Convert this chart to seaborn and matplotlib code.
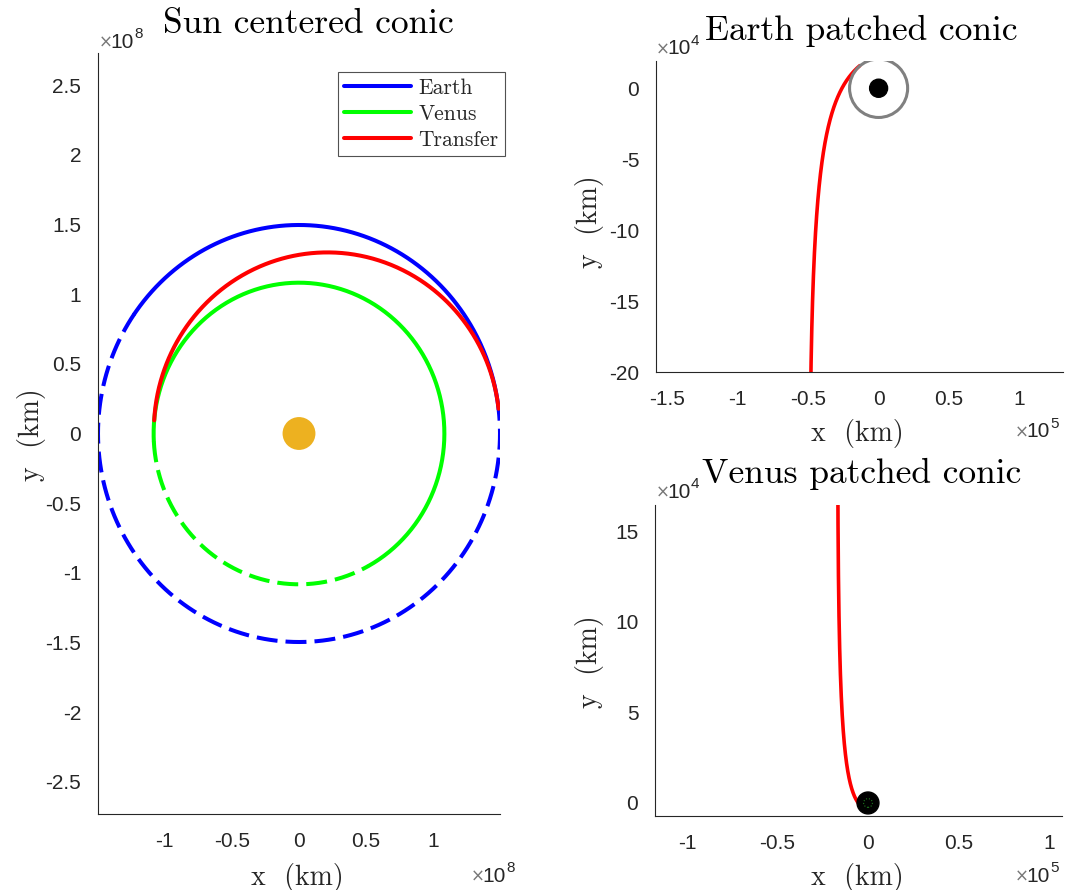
import numpy as np
import matplotlib
matplotlib.use("Agg")
import matplotlib.pyplot as plt
from matplotlib.patches import Circle
from matplotlib.lines import Line2D
from matplotlib.ticker import FuncFormatter
import seaborn as sns

# ---- data ----
# heliocentric orbits (km) and the arcs drawn solid / dashed (deg)
earth_orbit_r = 1.496e8
venus_orbit_r = 1.082e8
earth_solid_deg = [6.8, 145.0]
earth_dashed_deg = [145.0, 366.8]
venus_solid_deg = [-61.5, 183.0]
venus_dashed_deg = [183.0, 298.5]
# transfer conic: semi-latus rectum (km), eccentricity, periapsis angle (deg), true anomaly span (deg)
transfer_p = 1.253e8
transfer_e = 0.1624
transfer_w = 188.0
transfer_nu = [-181.2, -13.0]

# Earth departure hyperbola
earth_hyp_p = 4.76e4
earth_hyp_e = 1.292
earth_hyp_w = 130.0
earth_hyp_nu = [0.0, 128.0]
earth_body_r = 6378.0
earth_park_r = 2.06e4

# Venus arrival hyperbola
venus_hyp_p = 0.736e4
venus_hyp_e = 1.061
venus_hyp_w = 250.0
venus_hyp_nu = [-155.0, -70.0]
venus_body_r = 6052.0

sun_ticks_x = [-1e8, -0.5e8, 0, 0.5e8, 1e8]
sun_ticks_y = [-2.5e8, -2e8, -1.5e8, -1e8, -0.5e8, 0, 0.5e8, 1e8, 1.5e8, 2e8, 2.5e8]
earth_ticks_x = [-1.5e5, -1e5, -0.5e5, 0, 0.5e5, 1e5]
earth_ticks_y = [-20e4, -15e4, -10e4, -5e4, 0]
venus_ticks_x = [-1e5, -0.5e5, 0, 0.5e5, 1e5]
venus_ticks_y = [0, 5e4, 10e4, 15e4]

BLUE, GREEN, RED = "#0000ff", "#00ff00", "#ff0000"
SUN = "#EDB120"
AXC = "#262626"
SERIF = "cmr10"
TICKFONT = "Liberation Sans"

W, H = 1066, 890


def arc(r, deg_range, n=400):
    t = np.radians(np.linspace(deg_range[0], deg_range[1], n))
    return r * np.cos(t), r * np.sin(t)


def conic(p, e, w, nu_range, n=600):
    nu = np.radians(np.linspace(nu_range[0], nu_range[1], n))
    r = p / (1 + e * np.cos(nu))
    th = nu + np.radians(w)
    return r * np.cos(th), r * np.sin(th)


def line(ax, xy, color, dashed=False, lw=2.9):
    ls = (0, (5.2, 2.0)) if dashed else "-"
    sns.lineplot(x=xy[0], y=xy[1], ax=ax, color=color, linewidth=lw,
                 linestyle=ls, sort=False, estimator=None, legend=False)


def style_axes(ax, xt, yt, xs, ys):
    sns.despine(ax=ax)
    for s in ["left", "bottom"]:
        ax.spines[s].set_color(AXC)
        ax.spines[s].set_linewidth(0.8)
    ax.set_xticks(xt)
    ax.set_yticks(yt)
    ax.xaxis.set_major_formatter(FuncFormatter(lambda v, _: f"{v / xs:g}"))
    ax.yaxis.set_major_formatter(FuncFormatter(lambda v, _: f"{v / ys:g}"))
    ax.tick_params(direction="in", length=5, width=0.8, color=AXC,
                   labelsize=15, labelcolor=AXC)
    ax.tick_params(axis="x", pad=13)
    ax.tick_params(axis="y", pad=12)
    for lab in ax.get_xticklabels() + ax.get_yticklabels():
        lab.set_fontfamily(TICKFONT)
    ax.set_xlabel("")
    ax.set_ylabel("")


def fig_text(x, y, s, **kw):
    fig.text(x / W, 1 - y / H, s, **kw)


def expo(x, y, n):
    fig.text(x / W, 1 - y / H, r"$\times$", fontsize=12, color="#777777",
             ha="left", va="center")
    fig.text((x + 12) / W, 1 - y / H, "10", fontsize=15, color=AXC,
             family=TICKFONT, ha="left", va="center")
    fig.text((x + 36) / W, 1 - (y - 8) / H, str(n), fontsize=11, color=AXC,
             family=TICKFONT, ha="left", va="center")


sns.set_style("white")
plt.rcParams["mathtext.fontset"] = "dejavusans"

fig = plt.figure(figsize=(W / 100, H / 100), dpi=100)
ax1 = fig.add_axes([98 / W, 1 - 814 / H, 402 / W, 761 / H])
ax2 = fig.add_axes([656 / W, 1 - 372 / H, 407 / W, 311 / H])
ax3 = fig.add_axes([655 / W, 1 - 816 / H, 407 / W, 311 / H])

# ---- Sun centered conic ----
line(ax1, arc(earth_orbit_r, earth_solid_deg), BLUE)
line(ax1, arc(earth_orbit_r, earth_dashed_deg), BLUE, dashed=True)
line(ax1, arc(venus_orbit_r, venus_solid_deg), GREEN)
line(ax1, arc(venus_orbit_r, venus_dashed_deg), GREEN, dashed=True)
line(ax1, conic(transfer_p, transfer_e, transfer_w, transfer_nu), RED)
ax1.scatter([0], [0], s=560, color=SUN, edgecolor="none", zorder=5)
ax1.set_xlim(-1.496e8, 1.496e8)
ax1.set_ylim(-2.73e8, 2.73e8)
style_axes(ax1, sun_ticks_x, sun_ticks_y, 1e8, 1e8)
handles = [Line2D([], [], color=c, lw=2.9) for c in (BLUE, GREEN, RED)]
leg = ax1.legend(handles, ["Earth", "Venus", "Transfer"], loc="upper right",
                 bbox_to_anchor=(505 / W, 1 - 72 / H), bbox_transform=fig.transFigure,
                 prop={"family": SERIF, "size": 15.5}, frameon=True, fancybox=False,
                 edgecolor=AXC, handlelength=3.1, handletextpad=0.35,
                 borderpad=0.3, labelspacing=0.3, borderaxespad=0)
leg.get_frame().set_linewidth(0.8)

# ---- Earth patched conic ----
line(ax2, conic(earth_hyp_p, earth_hyp_e, earth_hyp_w, earth_hyp_nu), RED, lw=2.6)
ax2.add_patch(Circle((0, 0), earth_park_r, fill=False, ec="#808080", lw=2.2, zorder=4))
ax2.add_patch(Circle((0, 0), earth_body_r, color="black", zorder=5))
ax2.set_xlim(-1.579e5, 1.308e5)
ax2.set_ylim(-20e4, 1.92e4)
style_axes(ax2, earth_ticks_x, earth_ticks_y, 1e5, 1e4)

# ---- Venus patched conic ----
line(ax3, conic(venus_hyp_p, venus_hyp_e, venus_hyp_w, venus_hyp_nu), RED, lw=2.6)
ax3.add_patch(Circle((0, 0), venus_body_r, color="black", zorder=5))
ax3.add_patch(Circle((0, 0), 0.4 * venus_body_r, fill=False, ec="#1f7a1f",
                     lw=0.8, ls=":", zorder=6))
ax3.set_xlim(-1.177e5, 1.072e5)
ax3.set_ylim(-0.72e4, 16.46e4)
style_axes(ax3, venus_ticks_x, venus_ticks_y, 1e5, 1e4)

# ---- titles, labels, exponents ----
tkw = dict(family=SERIF, fontsize=25.5, color="black", ha="center", va="center")
fig_text(308, 24, "Sun centered conic", **tkw)
fig_text(861, 31, "Earth patched conic", **tkw)
fig_text(862, 474, "Venus patched conic", **tkw)

lkw = dict(family=SERIF, fontsize=20, color=AXC, ha="center", va="center")
fig_text(297, 877, "x  (km)", **lkw)
fig_text(31, 435, "y  (km)", rotation=90, **lkw)
fig_text(857, 433, "x  (km)", **lkw)
fig_text(590, 222, "y  (km)", rotation=90, **lkw)
fig_text(857, 877, "x  (km)", **lkw)
fig_text(590, 662, "y  (km)", rotation=90, **lkw)

expo(98, 42, 8)
expo(470, 876, 8)
expo(655, 49, 4)
expo(1014, 432, 5)
expo(655, 492, 4)
expo(1014, 876, 5)

fig.savefig("out.png", dpi=100)
